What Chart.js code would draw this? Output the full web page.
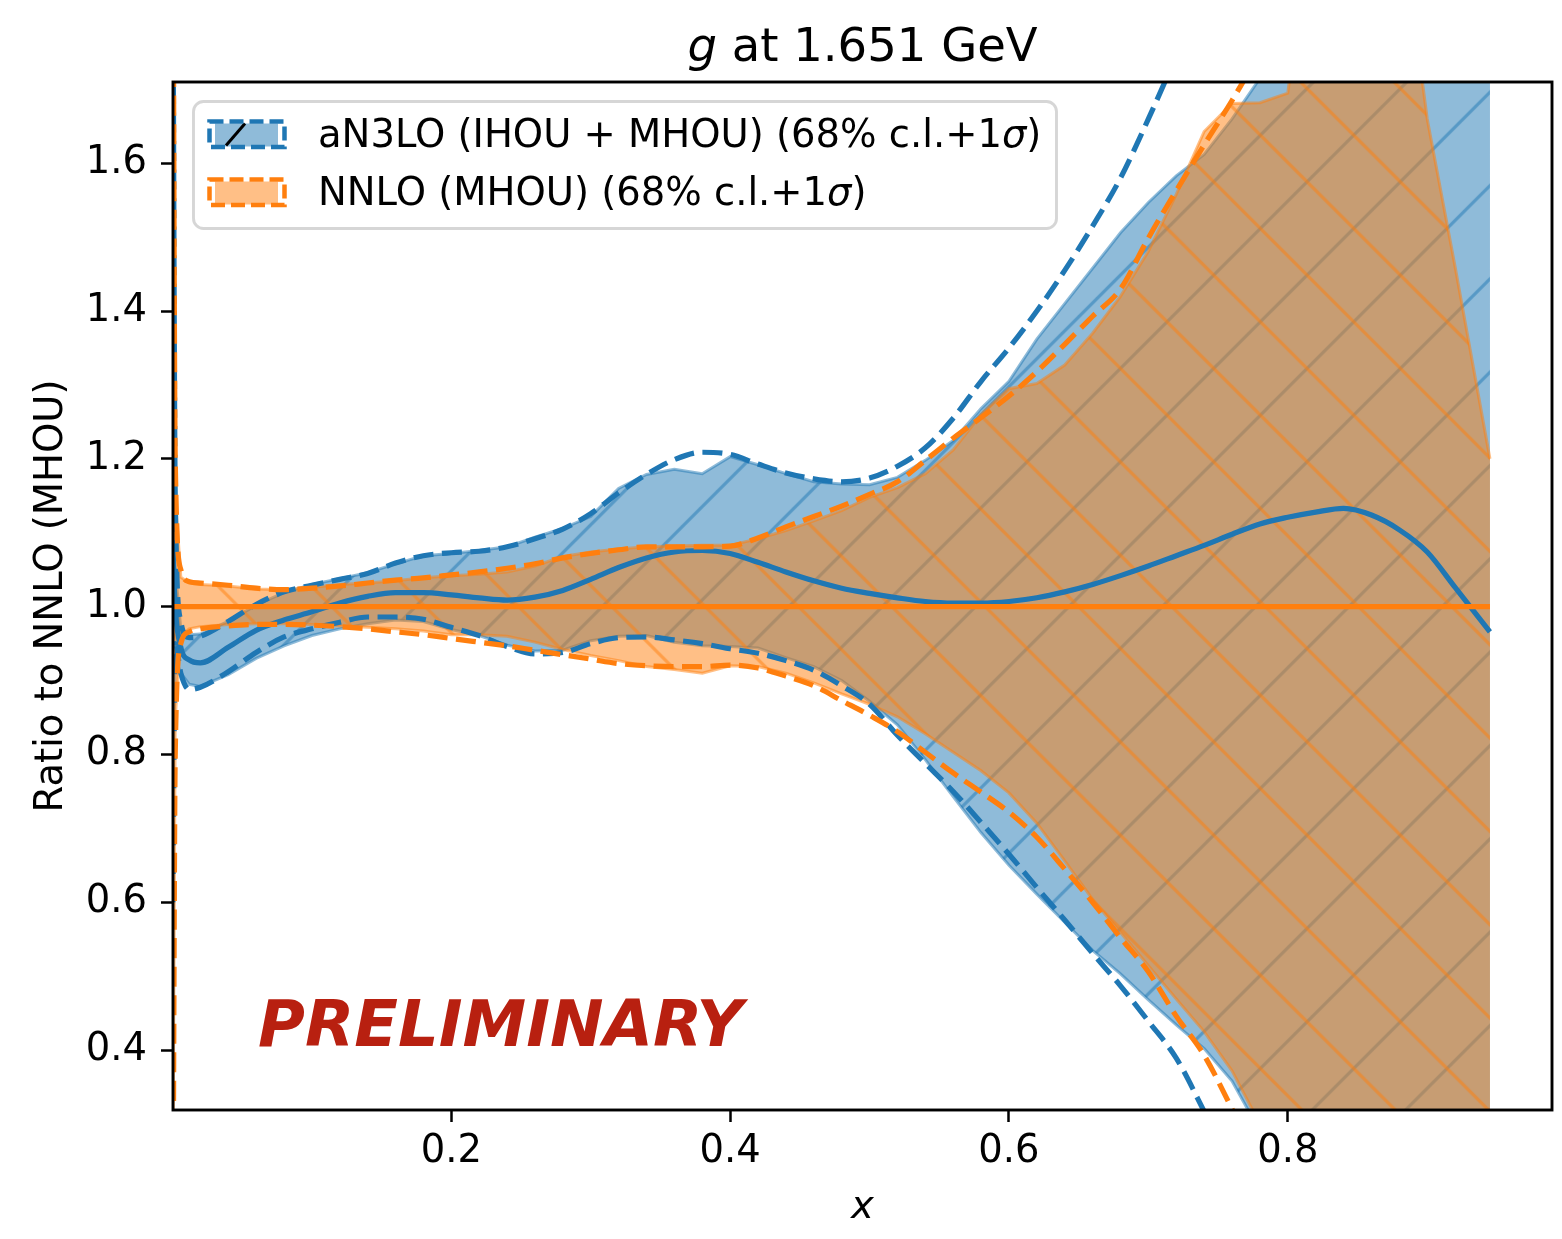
<!DOCTYPE html>
<html>
<head>
<meta charset="utf-8">
<script src="https://cdn.jsdelivr.net/npm/chart.js@4.4.1/dist/chart.umd.min.js"></script>
<style>
html,body{margin:0;padding:0;background:#fff;}
#wrap{width:1562px;height:1239px;}
canvas{display:block;}
</style>
</head>
<body>
<div id="wrap"><canvas id="c" width="1562" height="1239"></canvas></div>
<script>
// ---------------- data ----------------
const xs = [0.0003, 0.002, 0.006, 0.012,
  0.02, 0.04, 0.06, 0.08, 0.10, 0.12, 0.14, 0.16, 0.18, 0.20,
  0.22, 0.24, 0.26, 0.28, 0.30, 0.32, 0.34, 0.36, 0.38, 0.40,
  0.42, 0.44, 0.46, 0.48, 0.50, 0.52, 0.54, 0.56, 0.58, 0.60,
  0.62, 0.64, 0.66, 0.68, 0.70, 0.72, 0.74, 0.76, 0.78, 0.80,
  0.82, 0.84, 0.86, 0.88, 0.90, 0.92, 0.945];

// aN3LO (IHOU + MHOU): central ratio
const an3loCentral = [1.08, 1.0, 0.945, 0.928,
  0.924, 0.945, 0.968, 0.982, 0.993, 1.005, 1.014, 1.019, 1.019, 1.016,
  1.012, 1.009, 1.013, 1.022, 1.037, 1.053, 1.066, 1.074, 1.076, 1.072,
  1.060, 1.047, 1.035, 1.025, 1.018, 1.012, 1.007, 1.005, 1.005, 1.007,
  1.012, 1.020, 1.030, 1.042, 1.055, 1.069, 1.083, 1.098, 1.112, 1.121,
  1.128, 1.133, 1.124, 1.104, 1.074, 1.026, 0.966];
// aN3LO 68% c.l. band
const an3loClUp = [1.25, 1.05, 0.97, 0.962,
  0.963, 0.980, 1.002, 1.019, 1.030, 1.038, 1.046, 1.058, 1.069, 1.072,
  1.076, 1.081, 1.094, 1.106, 1.122, 1.160, 1.179, 1.186, 1.180, 1.203,
  1.192, 1.180, 1.169, 1.166, 1.165, 1.175, 1.198, 1.225, 1.268, 1.305,
  1.362, 1.410, 1.458, 1.506, 1.547, 1.583, 1.612, 1.660, 1.715, 1.76,
  1.82, 1.88, 1.94, 2.0, 2.05, 2.1, 2.2];
const an3loClLo = [0.75, 0.93, 0.91, 0.895,
  0.892, 0.908, 0.930, 0.947, 0.961, 0.970, 0.977, 0.982, 0.980, 0.969,
  0.961, 0.948, 0.940, 0.941, 0.954, 0.960, 0.961, 0.952, 0.947, 0.946,
  0.944, 0.931, 0.919, 0.900, 0.872, 0.840, 0.793, 0.743, 0.694, 0.650,
  0.611, 0.573, 0.535, 0.503, 0.468, 0.434, 0.402, 0.358, 0.29, 0.22,
  0.15, 0.08, 0.0, -0.1, -0.2, -0.3, -0.4];
// aN3LO 1 sigma
const an3loSigUp = [1.9, 1.15, 0.98, 0.958,
  0.960, 0.980, 1.003, 1.020, 1.029, 1.037, 1.045, 1.059, 1.069, 1.073,
  1.075, 1.081, 1.092, 1.105, 1.126, 1.154, 1.179, 1.199, 1.209, 1.206,
  1.193, 1.181, 1.173, 1.169, 1.174, 1.190, 1.215, 1.255, 1.305, 1.350,
  1.400, 1.455, 1.515, 1.580, 1.660, 1.745, 1.83, 1.93, 2.03, 2.15,
  2.3, 2.45, 2.6, 2.8, 3.0, 3.2, 3.5];
const an3loSigLo = [0.6, 0.95, 0.91, 0.888,
  0.891, 0.912, 0.938, 0.959, 0.970, 0.979, 0.986, 0.986, 0.983, 0.972,
  0.961, 0.946, 0.936, 0.938, 0.950, 0.958, 0.959, 0.955, 0.950, 0.943,
  0.937, 0.927, 0.914, 0.893, 0.868, 0.826, 0.788, 0.750, 0.708, 0.665,
  0.620, 0.576, 0.531, 0.487, 0.439, 0.389, 0.317, 0.24, 0.15, 0.05,
  -0.05, -0.15, -0.27, -0.4, -0.55, -0.7, -0.9];

// NNLO (MHOU): central ratio (reference, = 1)
const nnloCentral = [1, 1, 1, 1,
  1, 1, 1, 1, 1, 1, 1, 1, 1, 1,
  1, 1, 1, 1, 1, 1, 1, 1, 1, 1,
  1, 1, 1, 1, 1, 1, 1, 1, 1, 1,
  1, 1, 1, 1, 1, 1, 1, 1, 1, 1,
  1, 1, 1, 1, 1, 1, 1];
// NNLO 68% c.l. band
const nnloClUp = [1.9, 1.15, 1.04, 1.032,
  1.030, 1.028, 1.024, 1.023, 1.026, 1.030, 1.032, 1.035, 1.039, 1.042,
  1.044, 1.047, 1.055, 1.068, 1.074, 1.078, 1.081, 1.082, 1.083, 1.083,
  1.092, 1.103, 1.116, 1.130, 1.148, 1.161, 1.180, 1.212, 1.260, 1.295,
  1.302, 1.327, 1.370, 1.420, 1.481, 1.558, 1.643, 1.681, 1.682, 1.695,
  2.0, 2.1, 2.1, 1.95, 1.66, 1.46, 1.20];
const nnloClLo = [0.2, 0.85, 0.96, 0.970,
  0.973, 0.976, 0.977, 0.977, 0.976, 0.974, 0.972, 0.970, 0.967, 0.962,
  0.962, 0.960, 0.952, 0.942, 0.934, 0.927, 0.919, 0.915, 0.910, 0.920,
  0.919, 0.910, 0.897, 0.882, 0.868, 0.851, 0.828, 0.803, 0.778, 0.748,
  0.707, 0.656, 0.604, 0.559, 0.514, 0.469, 0.425, 0.372, 0.30, 0.22,
  0.15, 0.08, 0.0, -0.1, -0.2, -0.3, -0.4];
// NNLO 1 sigma
const nnloSigUp = [2.0, 1.2, 1.05, 1.034,
  1.032, 1.029, 1.025, 1.023, 1.025, 1.028, 1.032, 1.036, 1.039, 1.043,
  1.047, 1.052, 1.058, 1.066, 1.072, 1.077, 1.081, 1.081, 1.081, 1.082,
  1.093, 1.108, 1.122, 1.136, 1.152, 1.169, 1.198, 1.228, 1.256, 1.285,
  1.318, 1.355, 1.393, 1.430, 1.499, 1.563, 1.625, 1.685, 1.75, 1.82,
  1.9, 1.98, 2.06, 2.15, 2.25, 2.35, 2.5];
const nnloSigLo = [0.1, 0.8, 0.95, 0.966,
  0.970, 0.974, 0.976, 0.976, 0.975, 0.973, 0.970, 0.966, 0.962, 0.957,
  0.952, 0.947, 0.941, 0.935, 0.929, 0.923, 0.920, 0.919, 0.919, 0.921,
  0.917, 0.906, 0.893, 0.873, 0.853, 0.831, 0.803, 0.775, 0.749, 0.722,
  0.688, 0.645, 0.600, 0.552, 0.506, 0.446, 0.393, 0.32, 0.24, 0.15,
  0.05, -0.05, -0.15, -0.27, -0.4, -0.55, -0.7];

const xTicks = [0.2, 0.4, 0.6, 0.8];
const yTicks = [0.4, 0.6, 0.8, 1.0, 1.2, 1.4, 1.6];
const xRange = [0.0004, 0.9895];
const yRange = [0.3189, 1.7100];

const titleParts = [['g', true], [' at 1.651 GeV', false]];
const yLabel = 'Ratio to NNLO (MHOU)';
const xLabel = 'x';
const legendItems = [
  {parts: [['aN3LO (IHOU + MHOU) (68% c.l.+1', false], ['σ', true], [')', false]], color: '#1f77b4', hatch: true},
  {parts: [['NNLO (MHOU) (68% c.l.+1', false], ['σ', true], [')', false]], color: '#ff7f0e', hatch: false}
];
const stamp = 'PRELIMINARY';

// ---------------- styling ----------------
const BLUE = '#1f77b4', ORANGE = '#ff7f0e';
const BLUE_A = 'rgba(31,119,180,0.5)', ORANGE_A = 'rgba(255,127,14,0.5)';
const FONT = '"DejaVu Sans", "Liberation Sans", sans-serif';
const FS = 38.5, FS_TITLE = 46.5;

function makeHatch(fill, line, dir, offX) {
  const S = 280, p = S / 3;
  const c = document.createElement('canvas');
  c.width = S; c.height = S;
  const g = c.getContext('2d');
  g.fillStyle = fill; g.fillRect(0, 0, S, S);
  g.strokeStyle = line; g.lineWidth = 3.2;
  g.beginPath();
  for (let k = -4; k <= 8; k++) {
    const cc = k * p;
    if (dir === '/') { g.moveTo(-40, cc + 40); g.lineTo(S + 40, cc - S - 40); }
    else { g.moveTo(-40, -40 - cc); g.lineTo(S + 40, S + 40 - cc); }
  }
  g.stroke();
  const ctx = document.getElementById('c').getContext('2d');
  const pat = ctx.createPattern(c, 'repeat');
  if (pat.setTransform) pat.setTransform(new DOMMatrix([1, 0, 0, 1, offX, 0]));
  return pat;
}
const blueHatch = makeHatch(BLUE_A, BLUE_A, '/', 88.8);
const orangeHatch = makeHatch(ORANGE_A, ORANGE_A, '\\', 5.3);

const pts = arr => xs.map((x, i) => ({x: x, y: arr[i]}));
const lineDs = (arr, color, dashed, smooth) => ({
  data: pts(arr), borderColor: color, borderWidth: 5.2,
  borderDash: dashed ? [20, 8.5] : [], pointRadius: 0, fill: false,
  cubicInterpolationMode: smooth ? 'monotone' : 'default', tension: 0,
  clip: 0, borderCapStyle: 'butt', borderJoinStyle: 'round'
});
const edgeDs = (arr, color, fillTarget, bg) => ({
  data: pts(arr), borderColor: color, borderWidth: 3, pointRadius: 0,
  fill: fillTarget === null ? false : fillTarget, backgroundColor: bg || 'rgba(0,0,0,0)',
  tension: 0, clip: 0, borderJoinStyle: 'miter'
});

const datasets = [
  lineDs(nnloCentral, ORANGE, false, false),      // 0 (top)
  lineDs(nnloSigLo, ORANGE, true, true),          // 1
  lineDs(nnloSigUp, ORANGE, true, true),          // 2
  lineDs(an3loCentral, BLUE, false, true),        // 3
  lineDs(an3loSigLo, BLUE, true, true),           // 4
  lineDs(an3loSigUp, BLUE, true, true),           // 5
  edgeDs(nnloClLo, ORANGE_A, null),               // 6
  edgeDs(nnloClUp, ORANGE_A, 6, orangeHatch),     // 7
  edgeDs(an3loClLo, BLUE_A, null),                // 8
  edgeDs(an3loClUp, BLUE_A, 8, blueHatch)         // 9 (bottom)
];

function drawParts(ctx, parts, x, y, size, align) {
  const widths = parts.map(([t, it]) => { ctx.font = (it ? 'italic ' : '') + size + 'px ' + FONT; return ctx.measureText(t).width; });
  const total = widths.reduce((a, b) => a + b, 0);
  let cx = align === 'center' ? x - total / 2 : x;
  ctx.textAlign = 'left';
  parts.forEach(([t, it], i) => {
    ctx.font = (it ? 'italic ' : '') + size + 'px ' + FONT;
    ctx.fillText(t, cx, y);
    cx += widths[i];
  });
}

function roundRect(ctx, x, y, w, h, r) {
  ctx.beginPath();
  ctx.moveTo(x + r, y); ctx.lineTo(x + w - r, y); ctx.arcTo(x + w, y, x + w, y + r, r);
  ctx.lineTo(x + w, y + h - r); ctx.arcTo(x + w, y + h, x + w - r, y + h, r);
  ctx.lineTo(x + r, y + h); ctx.arcTo(x, y + h, x, y + h - r, r);
  ctx.lineTo(x, y + r); ctx.arcTo(x, y, x + r, y, r); ctx.closePath();
}

const decor = {
  id: 'decor',
  afterDatasetsDraw(chart) {
    const {ctx, chartArea: a} = chart;
    ctx.save();
    ctx.strokeStyle = '#000'; ctx.lineWidth = 2.9;
    ctx.strokeRect(a.left, a.top, a.right - a.left, a.bottom - a.top);
    ctx.restore();
  },
  afterDraw(chart) {
    const {ctx, chartArea: a} = chart;
    const cx = (a.left + a.right) / 2, cy = (a.top + a.bottom) / 2;
    ctx.save();
    ctx.fillStyle = '#000'; ctx.textBaseline = 'alphabetic';
    // title
    drawParts(ctx, titleParts, cx, 61, FS_TITLE, 'center');
    // x label
    drawParts(ctx, [[xLabel, true]], cx, 1218, FS, 'center');
    // y label
    ctx.save();
    ctx.translate(62, cy); ctx.rotate(-Math.PI / 2);
    ctx.font = FS + 'px ' + FONT; ctx.textAlign = 'center';
    ctx.fillText(yLabel, 0, 0);
    ctx.restore();
    // stamp
    ctx.font = 'italic bold 64px ' + FONT; ctx.textAlign = 'left';
    ctx.fillStyle = '#b82010';
    ctx.fillText(stamp, 258, 1046);
    // legend
    roundRect(ctx, 193.5, 101.5, 863, 127, 10);
    ctx.fillStyle = 'rgba(255,255,255,0.8)'; ctx.fill();
    ctx.strokeStyle = 'rgba(204,204,204,0.8)'; ctx.lineWidth = 2.9; ctx.stroke();
    legendItems.forEach((it, i) => {
      const y0 = 121.5 + i * 58;
      ctx.fillStyle = it.color === BLUE ? BLUE_A : ORANGE_A;
      ctx.fillRect(215, y0 + 2, 63, 23);
      if (it.hatch) {
        ctx.strokeStyle = '#000'; ctx.lineWidth = 3; ctx.setLineDash([]);
        ctx.beginPath(); ctx.moveTo(226, y0 + 24); ctx.lineTo(245, y0 + 2); ctx.stroke();
      }
      ctx.strokeStyle = it.color; ctx.lineWidth = 4.5; ctx.setLineDash([14, 6]);
      ctx.strokeRect(209.5, y0, 75, 25.5);
      ctx.setLineDash([]);
      ctx.fillStyle = '#000';
      drawParts(ctx, it.parts, 318, y0 + 25.5, FS, 'left');
    });
    ctx.restore();
  }
};

new Chart(document.getElementById('c'), {
  type: 'line',
  data: {datasets: datasets},
  plugins: [decor],
  options: {
    responsive: false, animation: false, devicePixelRatio: 1,
    layout: {padding: {top: 82, right: 10, left: 0, bottom: 0}},
    plugins: {legend: {display: false}, tooltip: {enabled: false}, title: {display: false}},
    elements: {line: {borderJoinStyle: 'round'}},
    scales: {
      x: {
        type: 'linear', min: xRange[0], max: xRange[1],
        afterFit: s => { s.height = 129; },
        afterBuildTicks: s => { s.ticks = xTicks.map(v => ({value: v})); },
        ticks: {callback: v => v.toFixed(1), font: {family: FONT, size: FS}, color: '#000', padding: 7, maxRotation: 0, autoSkip: false},
        grid: {drawOnChartArea: false, drawTicks: true, tickLength: 12, tickWidth: 2.5, tickColor: '#000', color: '#000'},
        border: {display: false}
      },
      y: {
        type: 'linear', min: yRange[0], max: yRange[1],
        afterFit: s => { s.width = 173; },
        afterBuildTicks: s => { s.ticks = yTicks.map(v => ({value: v})); },
        ticks: {callback: v => v.toFixed(1), font: {family: FONT, size: FS}, color: '#000', padding: 14, autoSkip: false},
        grid: {drawOnChartArea: false, drawTicks: true, tickLength: 12, tickWidth: 2.5, tickColor: '#000', color: '#000'},
        border: {display: false}
      }
    }
  }
});
</script>
</body>
</html>
